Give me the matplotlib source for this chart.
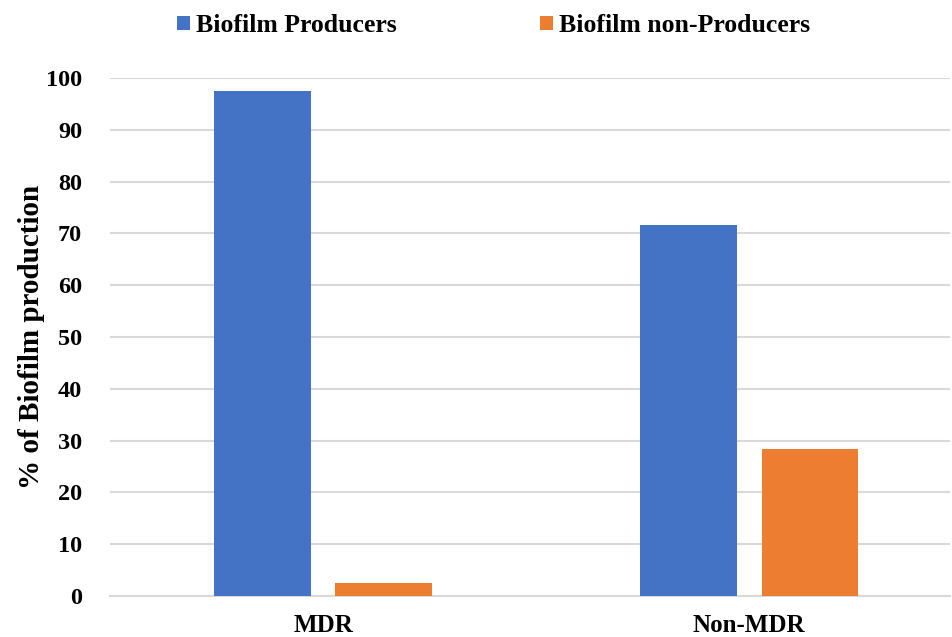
import numpy as np
import matplotlib
matplotlib.use("Agg")
import matplotlib.pyplot as plt

categories = ["MDR", "Non-MDR"]
producers = [97.4, 71.7]
non_producers = [2.6, 28.3]
series_names = ["Biofilm Producers", "Biofilm non-Producers"]

plt.rcParams['font.family'] = ['Liberation Serif', 'DejaVu Serif']
plt.rcParams['font.weight'] = 'bold'


def main():
    fig = plt.figure(figsize=(9.53, 6.37), dpi=100)
    ax = fig.add_axes([0.1154, 0.0644, 0.881, 0.8132])

    x = np.arange(len(categories))
    w = 0.227
    off = 0.1425
    ax.bar(x - off, producers, w, color='#4472C4', label=series_names[0], zorder=3)
    ax.bar(x + off, non_producers, w, color='#ED7D31', label=series_names[1], zorder=3)

    ax.set_xlim(-0.5, 1.47)
    ax.set_ylim(0, 100)
    ax.set_yticks(range(0, 101, 10))
    ax.set_xticks(x)
    ax.set_xticklabels(categories, fontsize=18, fontweight='bold')
    ax.tick_params(axis='y', labelsize=17.5, length=0, pad=20)
    ax.tick_params(axis='x', length=0, pad=13)
    for lab in ax.get_yticklabels():
        lab.set_fontweight('bold')

    ax.yaxis.grid(True, color='#d9d9d9', linewidth=1.5, zorder=0)
    for s in ['top', 'right', 'left']:
        ax.spines[s].set_visible(False)
    ax.spines['bottom'].set_color('#d9d9d9')
    ax.spines['bottom'].set_linewidth(1.5)

    ax.set_ylabel('% of Biofilm production', fontsize=21, fontweight='bold', labelpad=1)

    fig.legend(loc='upper center', bbox_to_anchor=(0.518, 1.014), ncol=2, frameon=False,
               fontsize=18.5, handlelength=0.5, handleheight=0.5, columnspacing=5.55,
               handletextpad=0.25)

    fig.savefig("out.png", dpi=100)


if __name__ == "__main__":
    main()
